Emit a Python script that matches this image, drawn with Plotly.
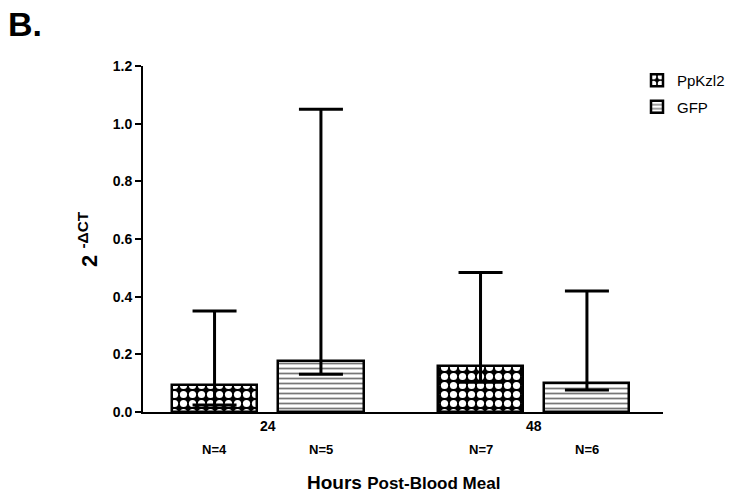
import plotly.graph_objects as go

# ---- data ----
categories = ["24", "48"]
ppkzl2_mean = [0.094, 0.160]
ppkzl2_upper = [0.350, 0.484]
ppkzl2_lower = [0.024, 0.103]
gfp_mean = [0.177, 0.102]
gfp_upper = [1.050, 0.420]
gfp_lower = [0.131, 0.076]
ppkzl2_n = ["N=4", "N=7"]
gfp_n = ["N=5", "N=6"]
y_ticks = [0.0, 0.2, 0.4, 0.6, 0.8, 1.0, 1.2]

FONT = "Liberation Sans, Arial, sans-serif"
xpos = list(range(len(categories)))
BAR_W = 0.32
OFF_A = -0.36
OFF_B = 0.04

fig = go.Figure()

fig.add_trace(go.Bar(
    name="PpKzl2", x=xpos, y=ppkzl2_mean, width=BAR_W, offset=OFF_A,
    legendgroup="a",
    marker=dict(color="black",
                line=dict(color="black", width=2.5),
                pattern=dict(shape=".", fgcolor="white", bgcolor="black",
                             size=9, solidity=0.5, fillmode="replace")),
    error_y=dict(type="data", symmetric=False,
                 array=[u - m for u, m in zip(ppkzl2_upper, ppkzl2_mean)],
                 arrayminus=[m - l for m, l in zip(ppkzl2_mean, ppkzl2_lower)],
                 color="black", thickness=3, width=22),
))
fig.add_trace(go.Bar(
    name="GFP", x=xpos, y=gfp_mean, width=BAR_W, offset=OFF_B,
    legendgroup="b",
    marker=dict(color="white",
                line=dict(color="black", width=2.5),
                pattern=dict(shape="-", fgcolor="#777777", bgcolor="white",
                             size=5, solidity=0.35, fillmode="replace")),
    error_y=dict(type="data", symmetric=False,
                 array=[u - m for u, m in zip(gfp_upper, gfp_mean)],
                 arrayminus=[m - l for m, l in zip(gfp_mean, gfp_lower)],
                 color="black", thickness=3, width=22),
))

annotations = []
for i in xpos:
    annotations.append(dict(x=i + OFF_A + BAR_W / 2, y=-0.107, xref="x", yref="paper",
                            text=ppkzl2_n[i], showarrow=False, yanchor="middle",
                            font=dict(family=FONT, size=13, color="black", weight="bold")))
    annotations.append(dict(x=i + OFF_B + BAR_W / 2, y=-0.107, xref="x", yref="paper",
                            text=gfp_n[i], showarrow=False, yanchor="middle",
                            font=dict(family=FONT, size=13, color="black", weight="bold")))

annotations.append(dict(x=-0.106, y=0.5, xref="paper", yref="paper", textangle=-90,
                        text="2 <sup>-ΔCT</sup>", showarrow=False,
                        xanchor="center", yanchor="middle",
                        font=dict(family=FONT, size=22, color="black", weight="bold")))
annotations.append(dict(x=0.5, y=-0.205, xref="paper", yref="paper",
                        text="Hours <span style='font-size:17px'>Post-Blood Meal</span>",
                        showarrow=False, xanchor="center", yanchor="middle",
                        font=dict(family=FONT, size=19, color="black", weight="bold")))
annotations.append(dict(x=-0.264, y=1.121, xref="paper", yref="paper",
                        text="B.", showarrow=False, xanchor="left", yanchor="middle",
                        font=dict(family=FONT, size=34, color="black", weight="bold")))

fig.update_layout(
    width=733, height=496, autosize=False,
    margin=dict(l=143, r=70, t=66, b=84, autoexpand=False),
    plot_bgcolor="white", paper_bgcolor="white",
    font=dict(family=FONT, color="black"),
    showlegend=True,
    legend=dict(x=0.95, y=1.006, xanchor="left", yanchor="top",
                traceorder="grouped", tracegroupgap=4,
                bgcolor="rgba(0,0,0,0)", font=dict(family=FONT, size=15, color="black")),
    annotations=annotations,
    bargap=0,
)
fig.update_xaxes(range=[-0.469, 1.486], tickvals=xpos, ticktext=categories,
                 showline=True, linecolor="black", linewidth=2, ticks="",
                 showgrid=False, zeroline=False, automargin=False,
                 tickfont=dict(family=FONT, size=14, color="black", weight="bold"))
fig.update_yaxes(range=[0, 1.2], tickvals=y_ticks, tickformat=".1f",
                 showline=True, linecolor="black", linewidth=2,
                 ticks="outside", ticklen=6, tickwidth=2, tickcolor="black",
                 showgrid=False, zeroline=False, automargin=False,
                 tickfont=dict(family=FONT, size=14, color="black", weight="bold"))

fig.write_html("out.html")
